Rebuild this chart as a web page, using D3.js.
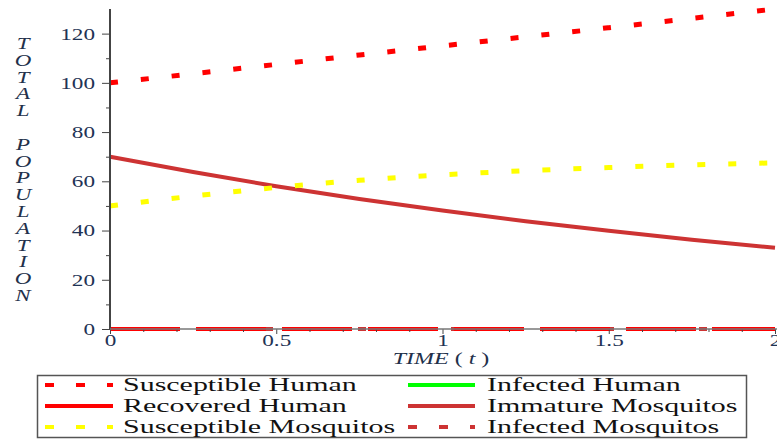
<!DOCTYPE html>
<html lang="en">
<head>
<meta charset="UTF-8">
<title>Total Population</title>
<script src="https://d3js.org/d3.v7.min.js"></script>
<style>
  body { margin: 0; background: #fff; }
  svg { display: block; }
</style>
</head>
<body>
<svg width="777" height="439"></svg>
<script>
// data
const time = [0, 0.25, 0.5, 0.75, 1, 1.25, 1.5, 1.75, 2];
const susceptibleHuman = [100, 103.7, 107.5, 111.3, 115, 118.7, 122.4, 126.2, 130];
const infectedHuman = [0, 0, 0, 0, 0, 0, 0, 0, 0];
const recoveredHuman = [0, 0, 0, 0, 0, 0, 0, 0, 0];
const immatureMosquitos = [70, 63.8, 58, 52.8, 48.1, 43.8, 39.9, 36.3, 33];
const susceptibleMosquitos = [50, 54, 57.5, 60.4, 62.6, 64.3, 65.6, 66.7, 67.5];
const infectedMosquitos = [0, 0, 0, 0, 0, 0, 0, 0, 0];

const xTicks = [0, 0.5, 1, 1.5, 2];
const yTicks = [0, 20, 40, 60, 80, 100, 120];

const series = [
  { name: "Susceptible Human", values: susceptibleHuman, color: "#ff0000", dash: "8,23", width: 5 },
  { name: "Infected Human", values: infectedHuman, color: "#00ff00", dash: "70,16", width: 4 },
  { name: "Recovered Human", values: recoveredHuman, color: "#ff0000", dash: "70,16", width: 4 },
  { name: "Immature Mosquitos", values: immatureMosquitos, color: "#cd3333", dash: null, width: 4 },
  { name: "Susceptible Mosquitos", values: susceptibleMosquitos, color: "#ffff00", dash: "8,23", width: 5 },
  { name: "Infected Mosquitos", values: infectedMosquitos, color: "#cd3333", dash: "8,23", width: 4 }
];

const svg = d3.select("svg");
const SX = 1.45; // the source picture is stretched sideways
const serif = "Liberation Serif, Times New Roman, DejaVu Serif, serif";

const x = d3.scaleLinear().domain([0, 2]).range([110, 775]);
const y = d3.scaleLinear().domain([0, 130]).range([329, 9]);

function stretchedText(parent, px, py, str, size, anchor, color, italic, sx) {
  const t = parent.append("text")
    .attr("transform", `translate(${px},${py}) scale(${sx || SX},1)`)
    .attr("text-anchor", anchor)
    .attr("font-family", serif)
    .attr("font-size", size)
    .attr("fill", color)
    .text(str);
  if (italic) t.attr("font-style", "italic");
  return t;
}

// curves (zero lines drawn first so the others sit on top)
const line = d3.line().x((d, i) => x(time[i])).y(d => y(d)).curve(d3.curveMonotoneX);
const order = [5, 1, 2, 3, 4, 0];
const curves = svg.append("g");
order.forEach(k => {
  const s = series[k];
  const p = curves.append("path")
    .attr("d", line(s.values))
    .attr("fill", "none")
    .attr("stroke", s.color)
    .attr("stroke-width", s.width);
  if (s.dash) p.attr("stroke-dasharray", s.dash);
});

// axes
const axisColor = "#444";
const labelColor = "#1f3355";

const yAxis = svg.append("g").attr("transform", "translate(110,0)")
  .call(d3.axisLeft(y).tickValues(yTicks).tickSize(8).tickPadding(0).tickFormat(d3.format("d")));
yAxis.select(".domain").remove();
yAxis.selectAll("line").attr("stroke", axisColor);
yAxis.selectAll("text")
  .attr("x", -15 / SX)
  .attr("dy", "0.34em")
  .attr("transform", `scale(${SX},1)`)
  .attr("font-family", serif)
  .attr("font-size", 16)
  .attr("fill", labelColor);

svg.append("g").attr("transform", "translate(110,0)")
  .call(d3.axisLeft(y).tickValues(d3.range(10, 130, 20)).tickSize(4).tickFormat(""))
  .call(g => g.select(".domain").remove())
  .selectAll("line").attr("stroke", axisColor);

const xAxis = svg.append("g").attr("transform", "translate(0,329)")
  .call(d3.axisBottom(x).tickValues(xTicks).tickSize(5).tickPadding(0).tickFormat(d3.format("")));
xAxis.select(".domain").remove();
xAxis.selectAll("line").attr("stroke", axisColor);
xAxis.selectAll("text")
  .attr("y", 6)
  .attr("dy", "0.71em")
  .attr("x", 0)
  .attr("transform", `scale(${SX},1)`)
  .attr("font-family", serif)
  .attr("font-size", 16)
  .attr("fill", labelColor);

svg.append("g").attr("transform", "translate(0,329)")
  .call(d3.axisBottom(x).tickValues(d3.range(0.1, 2, 0.1).filter(v => Math.abs(v * 2 - Math.round(v * 2)) > 0.01)).tickSize(3).tickFormat(""))
  .call(g => g.select(".domain").remove())
  .selectAll("line").attr("stroke", axisColor);

svg.append("line").attr("x1", 110).attr("x2", 110).attr("y1", 9).attr("y2", 329)
  .attr("stroke", axisColor).attr("stroke-width", 2);
svg.append("line").attr("x1", 110).attr("x2", 777).attr("y1", 329).attr("y2", 329)
  .attr("stroke", "#777").attr("stroke-width", 1.5);

// axis titles
const titleColor = "#22304a";
const xt = svg.append("text")
  .attr("transform", `translate(441,364) scale(1.5,1)`)
  .attr("text-anchor", "middle")
  .attr("font-family", serif)
  .attr("font-size", 16)
  .attr("fill", titleColor);
xt.append("tspan").attr("font-style", "italic").text("TIME");
xt.append("tspan").text(" ( ");
xt.append("tspan").attr("font-style", "italic").text("t");
xt.append("tspan").text(" )");

"TOTAL POPULATION".split("").forEach((ch, i) => {
  if (ch === " ") return;
  stretchedText(svg, 23, 43 + i * 16.8 + 6, ch, 17, "middle", titleColor, true, 1.35);
});

// legend
const legend = svg.append("g");
legend.append("rect")
  .attr("x", 37.5).attr("y", 375.5).attr("width", 709).attr("height", 62)
  .attr("fill", "#fff").attr("stroke", "#555").attr("stroke-width", 1.5);

const legendCols = [{ x0: 45, x1: 113, tx: 123 }, { x0: 408, x1: 475, tx: 487 }];
const legendRows = [385, 406, 427];
const legendOrder = [[0, 1], [2, 3], [4, 5]];
legendOrder.forEach((pair, r) => {
  pair.forEach((k, c) => {
    const s = series[k];
    const col = legendCols[c];
    const ln = legend.append("line")
      .attr("x1", col.x0).attr("x2", col.x1)
      .attr("y1", legendRows[r]).attr("y2", legendRows[r])
      .attr("stroke", s.color).attr("stroke-width", 4);
    if (s.dash && s.dash !== "70,16") ln.attr("stroke-dasharray", "9,22");
    stretchedText(legend, col.tx, legendRows[r] + 6, s.name, 18.5, "start", "#111", false, 1.62);
  });
});
</script>
</body>
</html>
